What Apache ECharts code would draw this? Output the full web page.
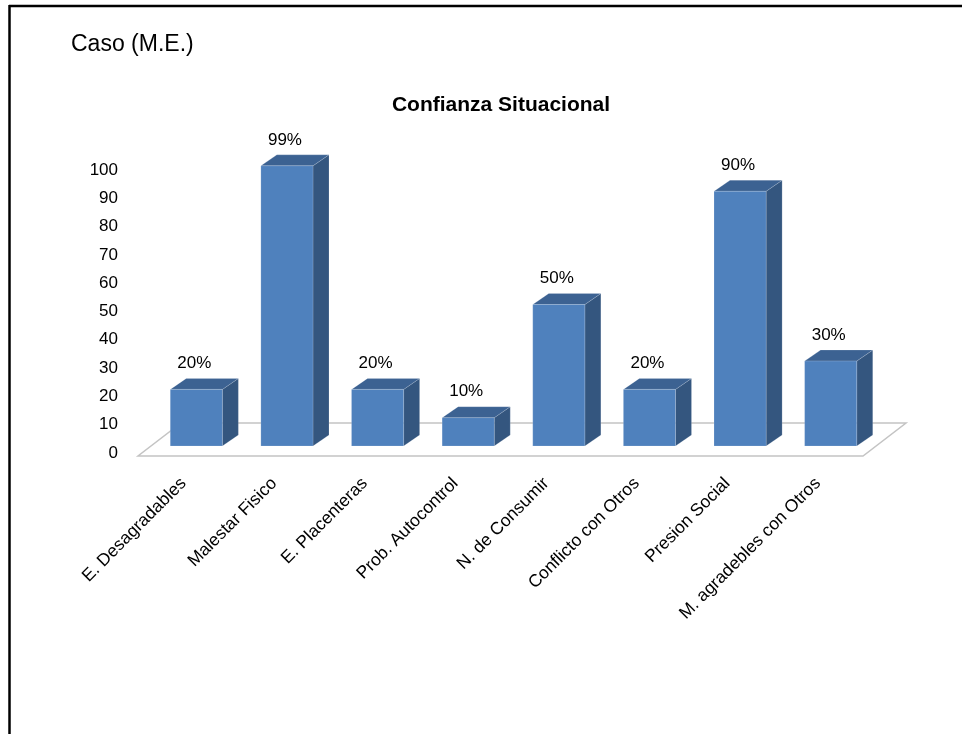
<!DOCTYPE html>
<html>
<head>
<meta charset="utf-8">
<script src="https://cdn.jsdelivr.net/npm/echarts@6/dist/echarts.min.js"></script>
<style>
  html, body { margin: 0; padding: 0; background: #ffffff; }
  #chart { width: 971px; height: 734px; }
</style>
</head>
<body>
<div id="chart"></div>
<script>
// Categories and their percentages
const categories = [
  'E. Desagradables',
  'Malestar Fisico',
  'E. Placenteras',
  'Prob. Autocontrol',
  'N. de Consumir',
  'Conflicto con Otros',
  'Presion Social',
  'M. agradebles con Otros'
];
const values = [20, 99, 20, 10, 50, 20, 90, 30];
const yTicks = [0, 10, 20, 30, 40, 50, 60, 70, 80, 90, 100];

const FONT = '"Liberation Sans", Arial, sans-serif';
const FRONT = '#4f81bd';
const SIDE = '#34567f';
const TOP = '#3c6292';

// pseudo-3D projection settings
const LIFT = 7;      // bars stand mid-depth on the floor
const DEPTH_X = 16;  // bar depth, horizontal
const DEPTH_Y = 11;  // bar depth, vertical

const chart = echarts.init(document.getElementById('chart'), null, { renderer: 'canvas' });

function renderFloor(params, api) {
  const band = api.size([1, 0])[0];
  const first = api.coord([0, 0]);
  const last = api.coord([categories.length - 1, 0]);
  const L = first[0] - band / 2;
  const R = last[0] + band / 2;
  const y0 = first[1];
  const pts = [
    [L - 13, y0 + 3],
    [R - 13, y0 + 3],
    [R + 30, y0 - 30],
    [L + 30, y0 - 30]
  ];
  return {
    type: 'polygon',
    shape: { points: pts },
    style: { fill: '#ffffff', stroke: '#c4c4c4', lineWidth: 1.5 }
  };
}

function renderBar(params, api) {
  const idx = api.value(0);
  const val = api.value(1);
  const base = api.coord([idx, 0]);
  const top = api.coord([idx, val]);
  const band = api.size([1, 0])[0];
  const w = band * 0.575;
  const x0 = base[0] - w / 2;
  const x1 = base[0] + w / 2;
  const yb = base[1] - LIFT;
  const yt = top[1] - LIFT;
  return {
    type: 'group',
    children: [
      {
        type: 'polygon',
        shape: { points: [[x1, yt], [x1 + DEPTH_X, yt - DEPTH_Y], [x1 + DEPTH_X, yb - DEPTH_Y], [x1, yb]] },
        style: { fill: SIDE, stroke: 'rgba(255,255,255,0.25)', lineWidth: 0.6 }
      },
      {
        type: 'polygon',
        shape: { points: [[x0, yt], [x0 + DEPTH_X, yt - DEPTH_Y], [x1 + DEPTH_X, yt - DEPTH_Y], [x1, yt]] },
        style: { fill: TOP, stroke: 'rgba(255,255,255,0.25)', lineWidth: 0.6 }
      },
      {
        type: 'rect',
        shape: { x: x0, y: yt, width: w, height: yb - yt },
        style: { fill: FRONT, stroke: 'rgba(255,255,255,0.25)', lineWidth: 0.6 }
      },
      {
        type: 'text',
        style: {
          x: base[0] - 2,
          y: yt - 26,
          text: val + '%',
          fill: '#000000',
          font: '17px ' + FONT,
          align: 'center',
          verticalAlign: 'middle'
        }
      }
    ]
  };
}

const option = {
  backgroundColor: '#ffffff',
  animation: false,
  title: [
    {
      text: 'Caso (M.E.)',
      left: 66,
      top: 28,
      textStyle: { fontFamily: FONT, fontSize: 23, fontWeight: 'normal', color: '#000000' }
    },
    {
      text: 'Confianza Situacional',
      left: 496,
      textAlign: 'center',
      top: 90,
      textStyle: { fontFamily: FONT, fontSize: 21, fontWeight: 'bold', color: '#000000' }
    }
  ],
  grid: { left: 151, top: 170, width: 725, height: 283, containLabel: false },
  xAxis: {
    type: 'category',
    data: categories,
    boundaryGap: true,
    axisLine: { show: false },
    axisTick: { show: false },
    splitLine: { show: false },
    axisLabel: {
      interval: 0,
      rotate: 45,
      margin: 15,
      padding: [0, 18, 0, 0],
      fontFamily: FONT,
      fontSize: 17.5,
      color: '#000000'
    }
  },
  yAxis: {
    type: 'value',
    min: yTicks[0],
    max: yTicks[yTicks.length - 1],
    interval: yTicks[1] - yTicks[0],
    axisLine: { show: false },
    axisTick: { show: false },
    splitLine: { show: false },
    axisLabel: {
      margin: 33,
      fontFamily: FONT,
      fontSize: 17,
      color: '#000000'
    }
  },
  series: [
    {
      type: 'custom',
      name: 'floor',
      silent: true,
      z: 1,
      data: [[0, 0]],
      renderItem: renderFloor
    },
    {
      type: 'custom',
      name: 'Confianza Situacional',
      z: 2,
      data: values.map((v, i) => [i, v]),
      encode: { x: 0, y: 1 },
      renderItem: renderBar
    }
  ],
  graphic: [
    { type: 'line', shape: { x1: 9, y1: 6, x2: 962, y2: 6 }, style: { stroke: '#000000', lineWidth: 2.5 } },
    { type: 'line', shape: { x1: 9.5, y1: 5, x2: 9.5, y2: 734 }, style: { stroke: '#000000', lineWidth: 2.5 } }
  ]
};

chart.setOption(option);
</script>
</body>
</html>
